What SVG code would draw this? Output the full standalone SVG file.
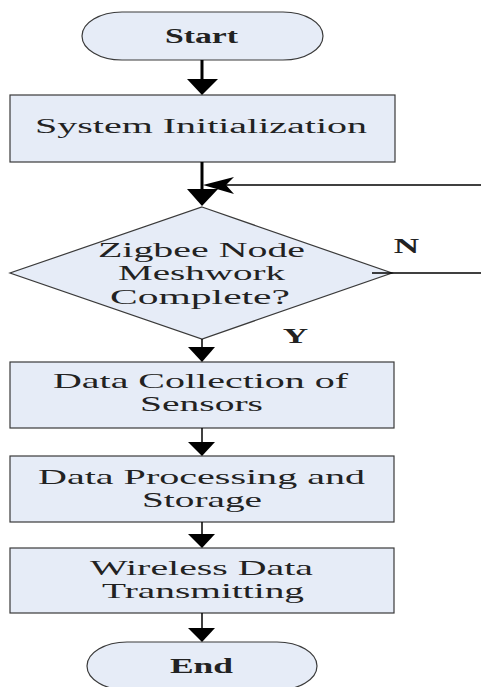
<svg xmlns="http://www.w3.org/2000/svg" width="481" height="687" viewBox="0 0 481 687">
<style>
.shape{fill:#E6ECF7;stroke:#3a3a3a;stroke-width:1.2}
.t{font-family:"Liberation Serif","Times New Roman",serif;font-size:21px;fill:#222;text-anchor:middle}
.s20{font-size:20px}
.s22{font-size:22px}
.b{font-weight:bold}
.thick{stroke:#000;stroke-width:3;fill:none}
.thin{stroke:#000;stroke-width:1.5;fill:none}
.head{fill:#000;stroke:none}
</style>
<rect width="481" height="687" fill="#fff"/>
<g id="start">
<rect class="shape" x="82" y="12" width="241" height="48" rx="40" ry="24"/>
<text class="t s20 b" transform="translate(201.5,43) scale(1.85,1)" textLength="39.5" lengthAdjust="spacingAndGlyphs">Start</text>
</g>
<g id="init">
<rect class="shape" x="10" y="95" width="385" height="67"/>
<text class="t s20" transform="translate(201,133) scale(1.85,1)" textLength="179.5" lengthAdjust="spacingAndGlyphs">System Initialization</text>
</g>
<g id="decision">
<polygon class="shape" points="202,207 392,273 202,339 10,273"/>
<text class="t s22" transform="translate(201.5,257) scale(1.85,1)" textLength="111.9" lengthAdjust="spacingAndGlyphs">Zigbee Node</text>
<text class="t s22" transform="translate(201.5,280) scale(1.85,1)" textLength="90.3" lengthAdjust="spacingAndGlyphs">Meshwork</text>
<text class="t s22" transform="translate(200,304) scale(1.85,1)" textLength="97.3" lengthAdjust="spacingAndGlyphs">Complete?</text>
</g>
<g id="collect">
<rect class="shape" x="10" y="362" width="384" height="66"/>
<text class="t" transform="translate(200.5,388) scale(1.85,1)" textLength="159.5" lengthAdjust="spacingAndGlyphs">Data Collection of</text>
<text class="t" transform="translate(201.5,411) scale(1.85,1)" textLength="66.5" lengthAdjust="spacingAndGlyphs">Sensors</text>
</g>
<g id="process">
<rect class="shape" x="10" y="456" width="384" height="66"/>
<text class="t" transform="translate(201.5,484) scale(1.85,1)" textLength="176.8" lengthAdjust="spacingAndGlyphs">Data Processing and</text>
<text class="t" transform="translate(202,507) scale(1.85,1)" textLength="64.9" lengthAdjust="spacingAndGlyphs">Storage</text>
</g>
<g id="wireless">
<rect class="shape" x="10" y="548" width="384" height="65"/>
<text class="t" transform="translate(201.5,575) scale(1.85,1)" textLength="120.5" lengthAdjust="spacingAndGlyphs">Wireless Data</text>
<text class="t" transform="translate(203,598) scale(1.85,1)" textLength="109.2" lengthAdjust="spacingAndGlyphs">Transmitting</text>
</g>
<g id="end">
<rect class="shape" x="87" y="642" width="230" height="48" rx="40" ry="24"/>
<text class="t s20 b" transform="translate(201.5,673) scale(1.85,1)" textLength="34.1" lengthAdjust="spacingAndGlyphs">End</text>
</g>
<g id="connectors">
<line class="thick" x1="202" y1="60" x2="202" y2="81"/>
<polygon class="head" points="187,79 218,79 202,95"/>
<line class="thick" x1="202" y1="162" x2="202" y2="192"/>
<polygon class="head" points="187,189 218,189 202,206"/>
<line class="thin" x1="481" y1="185" x2="225" y2="185"/>
<polygon class="head" points="203,185 234,177 226,185 234,194"/>
<line class="thin" x1="372" y1="273" x2="481" y2="273"/>
<text class="t s22 b" transform="translate(406.5,253) scale(1.6,1)">N</text>
<text class="t s22 b" transform="translate(295.5,343) scale(1.6,1)">Y</text>
<line class="thin" x1="202" y1="339" x2="202" y2="349"/>
<polygon class="head" points="188,347 215,347 202,362"/>
<line class="thin" x1="202" y1="428" x2="202" y2="444"/>
<polygon class="head" points="188,442 215,442 202,456"/>
<line class="thin" x1="202" y1="522" x2="202" y2="536"/>
<polygon class="head" points="188,534 215,534 202,548"/>
<line class="thin" x1="202" y1="613" x2="202" y2="630"/>
<polygon class="head" points="188,628 215,628 202,642"/>
</g>
</svg>
